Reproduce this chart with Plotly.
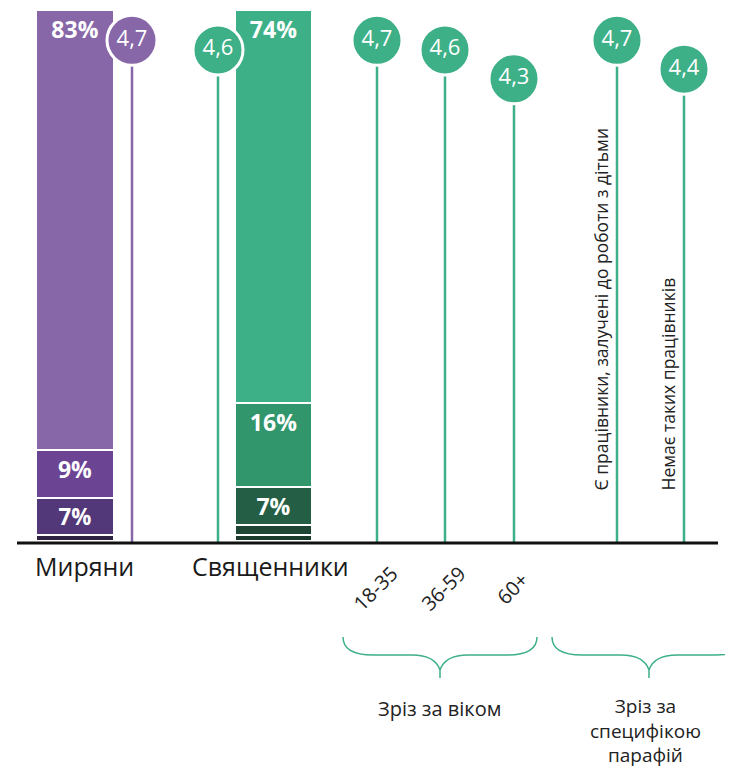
import plotly.graph_objects as go

# ---------------- data ----------------
groups = ["Миряни", "Священники"]
laity_shares = [83, 9, 7, 1]          # top -> bottom
clergy_shares = [74, 16, 7, 2, 1]     # top -> bottom

score_labels = ["Миряни", "Священники", "18-35", "36-59", "60+",
                "Є працівники, залучені до роботи з дітьми",
                "Немає таких працівників"]
score_values = [4.7, 4.6, 4.7, 4.6, 4.3, 4.7, 4.4]

age_labels = ["18-35", "36-59", "60+"]
parish_labels = ["Є працівники, залучені до роботи з дітьми", "Немає таких працівників"]
brace_titles = ["Зріз за віком", "Зріз за<br>специфікою<br>парафій"]

# ---------------- styles / layout ----------------
OFF = 8                      # page body margin
W, H = 733 - OFF, 771 - OFF  # figure size
FONT = "Open Sans"
PURPLE = "#8767A8"
GREEN = "#3DB087"
laity_colors = ["#8767A8", "#6C4494", "#523878", "#2E2340"]
clergy_colors = ["#3DB087", "#31966C", "#245F45", "#1F4534", "#1A3A2B"]
TEXT = "#222222"

# positions in screen pixels
bar_x = {"Миряни": 75, "Священники": 273.5}
bar_w = {"Миряни": 78, "Священники": 77}
score_x = [132, 218, 377, 445, 514, 617, 684]
score_colors = [PURPLE] + [GREEN] * 6

BASE_PX = 543
BAR_ZERO_PX, BAR_FULL_PX = 540.5, 10
ppu = (BAR_ZERO_PX - BAR_FULL_PX) / 100
y_range = [-(H - (BAR_ZERO_PX - OFF)) / ppu, 100 + (BAR_FULL_PX - OFF) / ppu]

REF_V, REF_PX, PX_PER_PT = 4.7, 40.3, 96.2
y2_range = [REF_V - (H - (REF_PX - OFF)) / PX_PER_PT, REF_V + (REF_PX - OFF) / PX_PER_PT]
stem_base = REF_V - (BASE_PX - REF_PX) / PX_PER_PT


def px(x):
    return (x - OFF) / W


def py(y):
    return 1 - (y - OFF) / H


fig = go.Figure()

# stacked bars (bottom -> top)
def add_stack(name, shares, colors):
    for s, c in reversed(list(zip(shares, colors))):
        fig.add_trace(go.Bar(
            x=[bar_x[name]], y=[s], width=[bar_w[name]],
            marker=dict(color=c, line=dict(color="white", width=2)),
            text=[f"{s}%" if s >= 5 else ""],
            textposition="inside", insidetextanchor="end",
            textfont=dict(family=FONT, size=23, color="white", weight="bold"),
            cliponaxis=False, showlegend=False, hoverinfo="skip",
        ))

add_stack("Миряни", laity_shares, laity_colors)
add_stack("Священники", clergy_shares, clergy_colors)

# lollipop stems
for xv, v, c in zip(score_x, score_values, score_colors):
    fig.add_trace(go.Scatter(
        x=[xv, xv], y=[stem_base, v], yaxis="y2", mode="lines",
        line=dict(color=c, width=2.5), showlegend=False, hoverinfo="skip",
    ))

# lollipop heads
fig.add_trace(go.Scatter(
    x=score_x, y=score_values, yaxis="y2", mode="markers+text",
    marker=dict(size=50, color=score_colors, line=dict(color="white", width=3)),
    text=[f"{v:.1f}".replace(".", ",") for v in score_values],
    textposition="middle center",
    textfont=dict(family=FONT, size=22, color="white"),
    showlegend=False, hoverinfo="skip", cliponaxis=False,
))

shapes = [dict(type="line", xref="paper", yref="paper",
               x0=px(17), x1=px(718), y0=py(BASE_PX), y1=py(BASE_PX),
               line=dict(color="#111111", width=3), layer="above")]

# braces
def brace(cx, half=97, top=637, mid=655, tip=678, join=670):
    pts = (f"M {px(cx-half)},{py(top)} "
           f"Q {px(cx-half)},{py(mid)} {px(cx-half+30)},{py(mid)} "
           f"L {px(cx-28)},{py(mid)} "
           f"C {px(cx-8)},{py(mid)} {px(cx-2)},{py(join-6)} {px(cx)},{py(join)} "
           f"L {px(cx)},{py(tip)} "
           f"M {px(cx)},{py(join)} "
           f"C {px(cx+2)},{py(join-6)} {px(cx+8)},{py(mid)} {px(cx+28)},{py(mid)} "
           f"L {px(cx+half-30)},{py(mid)} "
           f"Q {px(cx+half)},{py(mid)} {px(cx+half)},{py(top)}")
    return dict(type="path", xref="paper", yref="paper", path=pts,
                line=dict(color=GREEN, width=1.5))

shapes.append(brace(440))
shapes.append(brace(649))

annotations = []
# group labels
for name, cx in zip(groups, [84, 270]):
    annotations.append(dict(x=px(cx), y=py(566), xref="paper", yref="paper",
                            text=name, showarrow=False, xanchor="center", yanchor="middle",
                            font=dict(family=FONT, size=25, color="#1a1a1a")))
# age labels
for lab, xv in zip(age_labels, score_x[2:5]):
    annotations.append(dict(x=px(xv - 2), y=py(588), xref="paper", yref="paper",
                            text=lab, showarrow=False, textangle=-45,
                            xanchor="center", yanchor="middle",
                            font=dict(family=FONT, size=20, color=TEXT)))
# parish labels (vertical)
for lab, xv in zip(parish_labels, score_x[5:7]):
    annotations.append(dict(x=px(xv - 3), y=py(493), xref="paper", yref="paper",
                            text=lab, showarrow=False, textangle=-90,
                            xanchor="right", yanchor="bottom",
                            font=dict(family=FONT, size=17.5, color=TEXT)))
# brace titles
annotations.append(dict(x=px(440), y=py(708), xref="paper", yref="paper",
                        text=brace_titles[0], showarrow=False, xanchor="center", yanchor="middle",
                        font=dict(family=FONT, size=20, color=TEXT)))
annotations.append(dict(x=px(645), y=py(770), xref="paper", yref="paper",
                        text=brace_titles[1], showarrow=False, xanchor="center", yanchor="bottom",
                        font=dict(family=FONT, size=19, color=TEXT)))

fig.update_layout(
    width=W, height=H, autosize=False,
    margin=dict(l=0, r=0, t=0, b=0, pad=0),
    paper_bgcolor="white", plot_bgcolor="white",
    barmode="stack", bargap=0,
    xaxis=dict(range=[OFF, OFF + W], visible=False, fixedrange=True),
    yaxis=dict(range=y_range, visible=False, fixedrange=True),
    yaxis2=dict(range=y2_range, overlaying="y", visible=False, fixedrange=True),
    shapes=shapes, annotations=annotations,
    font=dict(family=FONT),
)

fig.write_html("out.html")
